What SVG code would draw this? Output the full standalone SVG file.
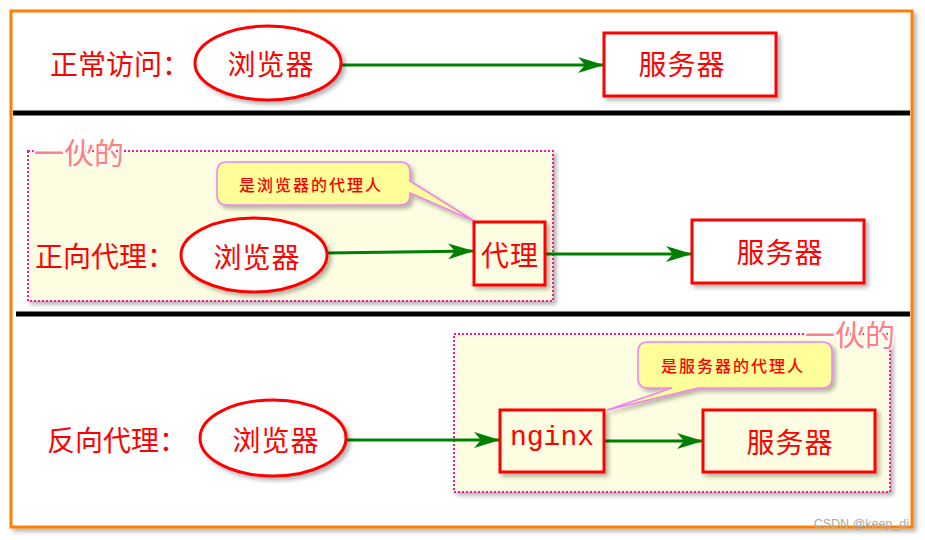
<svg xmlns="http://www.w3.org/2000/svg" width="925" height="540" viewBox="0 0 925 540">
<style>
.cn{font-family:"Noto Sans CJK SC","Noto Sans",sans-serif;fill:#FF0000;}
.lbl{font-size:28px;dominant-baseline:central;}
.node{font-size:28px;dominant-baseline:central;text-anchor:middle;letter-spacing:1px;}
.ell{fill:#FFFFFF;stroke:#FF0000;stroke-width:3;}
.box{fill:#FFFFFF;stroke:#FF0000;stroke-width:3;}
.box2{fill:#FDFDE2;stroke:#FF0000;stroke-width:3;}
.grp{fill:#FDFDE2;stroke:#FF1493;stroke-width:2;stroke-dasharray:2 2;}
.gl{font-family:"Noto Sans CJK SC",sans-serif;font-size:30px;fill:#FF8080;stroke:#FFFFFF;stroke-width:3;paint-order:stroke;dominant-baseline:central;}
.call{fill:#FFFF99;stroke:#EE82EE;stroke-width:1.5;}
.ct{font-size:16px;font-weight:500;dominant-baseline:central;text-anchor:middle;letter-spacing:2px;}
.conn{stroke:#008000;stroke-width:3;fill:none;}
.sep{stroke:#000000;stroke-width:5;}
</style>
<defs>
<filter id="sh" x="-10%" y="-10%" width="130%" height="130%">
<feDropShadow dx="3" dy="3" stdDeviation="2" flood-color="#000" flood-opacity="0.3"/>
</filter>
<marker id="ah" markerUnits="userSpaceOnUse" markerWidth="28" markerHeight="16" refX="26" refY="8" orient="auto">
<path d="M0,0 L26,8 L0,16 L7,8 Z" fill="#008000"/>
</marker>
</defs>
<rect width="925" height="540" fill="#FFFFFF"/>
<rect id="frame" x="11" y="11" width="901" height="516" fill="#FFFFFF" stroke="#FF8000" stroke-width="3" filter="url(#sh)"/>
<g id="separators">
<line class="sep" x1="13" y1="113" x2="910" y2="113"/>
<line class="sep" x1="16" y1="314" x2="910" y2="314"/>
</g>
<g id="group-forward">
<rect class="grp" x="28" y="151" width="525" height="150" filter="url(#sh)"/>
<text class="gl" x="34" y="151">一伙的</text>
</g>
<g id="group-reverse">
<rect class="grp" x="454" y="334" width="436" height="158" filter="url(#sh)"/>
<text class="gl" x="805" y="333">一伙的</text>
</g>
<g id="label-normal"><text class="cn lbl" x="50" y="63">正常访问：</text></g>
<g id="label-forward"><text class="cn lbl" x="35" y="255">正向代理：</text></g>
<g id="label-reverse"><text class="cn lbl" x="47" y="439">反向代理：</text></g>
<g id="connectors">
<line class="conn" x1="341" y1="65" x2="604" y2="65" marker-end="url(#ah)"/>
<line class="conn" x1="327" y1="253" x2="474" y2="251" marker-end="url(#ah)"/>
<line class="conn" x1="545" y1="254" x2="692" y2="254" marker-end="url(#ah)"/>
<line class="conn" x1="346" y1="440" x2="500" y2="440" marker-end="url(#ah)"/>
<line class="conn" x1="604" y1="441" x2="703" y2="441" marker-end="url(#ah)"/>
</g>
<g id="browser1">
<ellipse class="ell" cx="268" cy="63" rx="73" ry="37" filter="url(#sh)"/>
<text class="cn node" x="271" y="63">浏览器</text>
</g>
<g id="server1">
<rect class="box" x="604" y="33" width="172" height="63" filter="url(#sh)"/>
<text class="cn node" x="682" y="63">服务器</text>
</g>
<g id="callout-forward">
<path class="call" filter="url(#sh)" d="M227,162 H400 Q410,162 410,172 V181 L474,221 L410,193 V195 Q410,205 400,205 H227 Q217,205 217,195 V172 Q217,162 227,162 Z"/>
<text class="cn ct" x="311" y="184">是浏览器的代理人</text>
</g>
<g id="browser2">
<ellipse class="ell" cx="254" cy="255" rx="73" ry="37" filter="url(#sh)"/>
<text class="cn node" x="257" y="256">浏览器</text>
</g>
<g id="proxy">
<rect class="box2" x="474" y="222" width="71" height="63" filter="url(#sh)"/>
<text class="cn node" x="510" y="254">代理</text>
</g>
<g id="server2">
<rect class="box" x="692" y="220" width="172" height="63" filter="url(#sh)"/>
<text class="cn node" x="780" y="251">服务器</text>
</g>
<g id="callout-reverse">
<path class="call" filter="url(#sh)" d="M648,342 H822 Q832,342 832,352 V378 Q832,388 822,388 H698 L607,410 L672,388 H648 Q638,388 638,378 V352 Q638,342 648,342 Z"/>
<text class="cn ct" x="733" y="365">是服务器的代理人</text>
</g>
<g id="browser3">
<ellipse class="ell" cx="273" cy="438" rx="73" ry="38" filter="url(#sh)"/>
<text class="cn node" x="276" y="439">浏览器</text>
</g>
<g id="nginx">
<rect class="box2" x="500" y="410" width="104" height="62" filter="url(#sh)"/>
<text x="552" y="437" font-family="'Liberation Mono','DejaVu Sans Mono',monospace" font-size="28" fill="#FF0000" text-anchor="middle" dominant-baseline="central">nginx</text>
</g>
<g id="server3">
<rect class="box2" x="703" y="410" width="172" height="62" filter="url(#sh)"/>
<text class="cn node" x="790" y="441">服务器</text>
</g>
<text x="909" y="528" font-family="'Liberation Sans',Arial,sans-serif" font-size="12.5" fill="#AAAAAA" text-anchor="end">CSDN @keep_di</text>
</svg>
